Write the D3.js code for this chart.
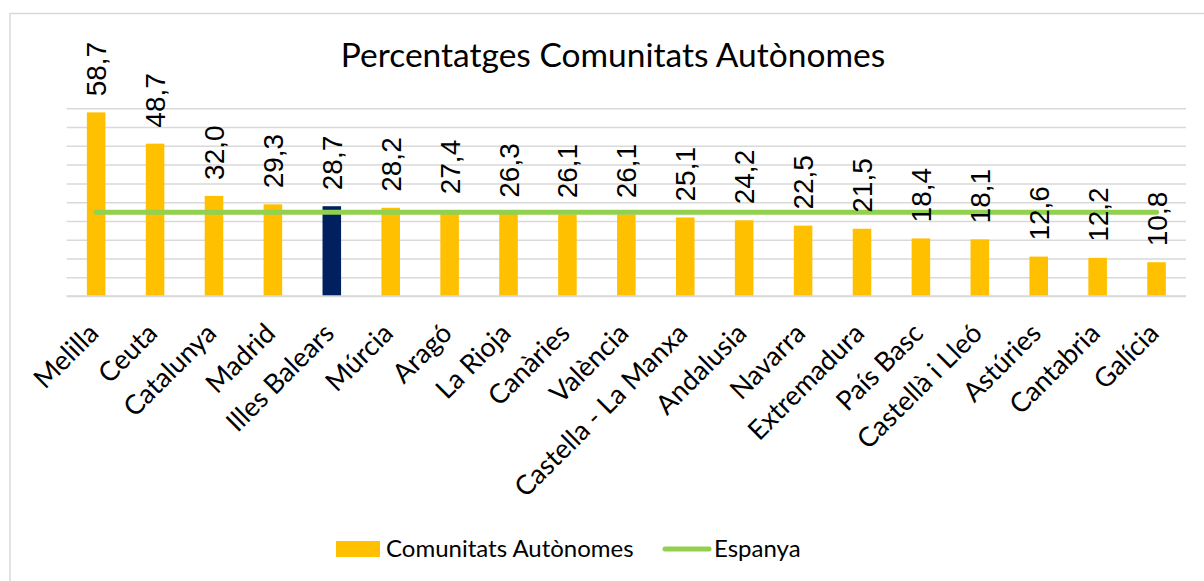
<!DOCTYPE html>
<html>
<head>
<meta charset="utf-8">
<script src="https://cdn.jsdelivr.net/npm/d3@7"></script>
<style>
  body { margin: 0; background: #fff; }
  svg { display: block; }
</style>
</head>
<body>
<div id="chart"></div>
<script>
const categories = ['Melilla', 'Ceuta', 'Catalunya', 'Madrid', 'Illes Balears', 'Múrcia', 'Aragó',
    'La Rioja', 'Canàries', 'València', 'Castella - La Manxa', 'Andalusia', 'Navarra', 'Extremadura',
    'País Basc', 'Castellà i Lleó', 'Astúries', 'Cantabria', 'Galícia'];
const comunitats = [58.7, 48.7, 32.0, 29.3, 28.7, 28.2, 27.4, 26.3, 26.1, 26.1, 25.1, 24.2, 22.5, 21.5,
    18.4, 18.1, 12.6, 12.2, 10.8];
const espanya = [26.8, 26.8, 26.8, 26.8, 26.8, 26.8, 26.8, 26.8, 26.8, 26.8, 26.8, 26.8, 26.8, 26.8,
    26.8, 26.8, 26.8, 26.8, 26.8];
const yTicks = [0, 6, 12, 18, 24, 30, 36, 42, 48, 54, 60];
const highlight = 'Illes Balears';

const WIDTH = 1204;
const HEIGHT = 581;
const PLOT = { LEFT: 66.7, RIGHT: 1186, TOP: 108.3, BOTTOM: 296 };
const YELLOW = '#FFC000';
const NAVY = '#002060';
const GREEN = '#92D050';
const GRID = '#d9d9d9';
const TEXT_FONT = 'Lato, "Open Sans", sans-serif';

const svg = d3.select('#chart')
    .append('svg')
    .attr('width', WIDTH)
    .attr('height', HEIGHT);

// chart frame
svg.append('rect')
    .attr('x', 10)
    .attr('y', 13.5)
    .attr('width', 1300)
    .attr('height', 700)
    .attr('fill', 'none')
    .attr('stroke', GRID)
    .attr('stroke-width', 1.5);

const xScale = d3.scaleBand()
    .domain(categories)
    .range([PLOT.LEFT, PLOT.RIGHT])
    .paddingInner(0.685)
    .paddingOuter(0.3425);

const yScale = d3.scaleLinear()
    .domain([0, 60])
    .range([PLOT.BOTTOM, PLOT.TOP]);

// gridlines
const yAxisCall = d3.axisLeft(yScale)
    .tickValues(yTicks)
    .tickSize(-(PLOT.RIGHT - PLOT.LEFT))
    .tickFormat('');
const yAxisGroup = svg.append('g')
    .attr('transform', `translate(${PLOT.LEFT}, 0)`)
    .call(yAxisCall);
yAxisGroup.select('.domain').remove();
yAxisGroup.selectAll('line')
    .attr('stroke', GRID)
    .attr('stroke-width', 1.5);

// title
svg.append('text')
    .attr('x', 613)
    .attr('y', 67)
    .attr('text-anchor', 'middle')
    .attr('font-family', TEXT_FONT)
    .attr('font-size', 33.5)
    .attr('fill', '#000')
    .text('Percentatges Comunitats Autònomes');

// bars
svg.append('g')
    .selectAll('rect')
    .data(categories)
    .join('rect')
    .attr('x', (d) => xScale(d))
    .attr('width', xScale.bandwidth())
    .attr('y', (d, i) => yScale(comunitats[i]))
    .attr('height', (d, i) => yScale(0) - yScale(comunitats[i]))
    .attr('fill', (d) => (d === highlight ? NAVY : YELLOW));

// Espanya line
const lineGenerator = d3.line()
    .x((d, i) => xScale(categories[i]) + xScale.bandwidth() / 2)
    .y((d) => yScale(d))
    .curve(d3.curveLinear);

svg.append('path')
    .attr('d', lineGenerator(espanya))
    .attr('fill', 'none')
    .attr('stroke', GREEN)
    .attr('stroke-width', 5)
    .attr('stroke-linecap', 'round');

// value labels
svg.append('g')
    .selectAll('text')
    .data(categories)
    .join('text')
    .attr('transform', (d, i) => {
        const cx = xScale(d) + xScale.bandwidth() / 2 + 10;
        const cy = yScale(comunitats[i]) - 16;
        return `translate(${cx}, ${cy}) rotate(-90)`;
    })
    .attr('font-family', '"Liberation Sans", Arial, sans-serif')
    .attr('font-size', 28)
    .attr('fill', '#000')
    .text((d, i) => d3.format('.1f')(comunitats[i]).replace('.', ','));

// x axis line
svg.append('line')
    .attr('x1', PLOT.LEFT)
    .attr('x2', PLOT.RIGHT)
    .attr('y1', yScale(0))
    .attr('y2', yScale(0))
    .attr('stroke', GRID)
    .attr('stroke-width', 1.5);

// category labels
svg.append('g')
    .selectAll('text')
    .data(categories)
    .join('text')
    .attr('transform', (d) => {
        const cx = xScale(d) + xScale.bandwidth() / 2 + 4;
        return `translate(${cx}, 335) rotate(-45)`;
    })
    .attr('text-anchor', 'end')
    .attr('font-family', TEXT_FONT)
    .attr('font-size', 27)
    .attr('fill', '#000')
    .text((d) => d);

// legend
const legend = svg.append('g');
legend.append('rect')
    .attr('x', 336)
    .attr('y', 541)
    .attr('width', 44)
    .attr('height', 16)
    .attr('fill', YELLOW);
legend.append('text')
    .attr('x', 386)
    .attr('y', 557)
    .attr('font-family', TEXT_FONT)
    .attr('font-size', 24)
    .attr('fill', '#000')
    .text('Comunitats Autònomes');
legend.append('line')
    .attr('x1', 665)
    .attr('x2', 709)
    .attr('y1', 549)
    .attr('y2', 549)
    .attr('stroke', GREEN)
    .attr('stroke-width', 5)
    .attr('stroke-linecap', 'round');
legend.append('text')
    .attr('x', 714)
    .attr('y', 557)
    .attr('font-family', TEXT_FONT)
    .attr('font-size', 24)
    .attr('fill', '#000')
    .text('Espanya');
</script>
</body>
</html>
